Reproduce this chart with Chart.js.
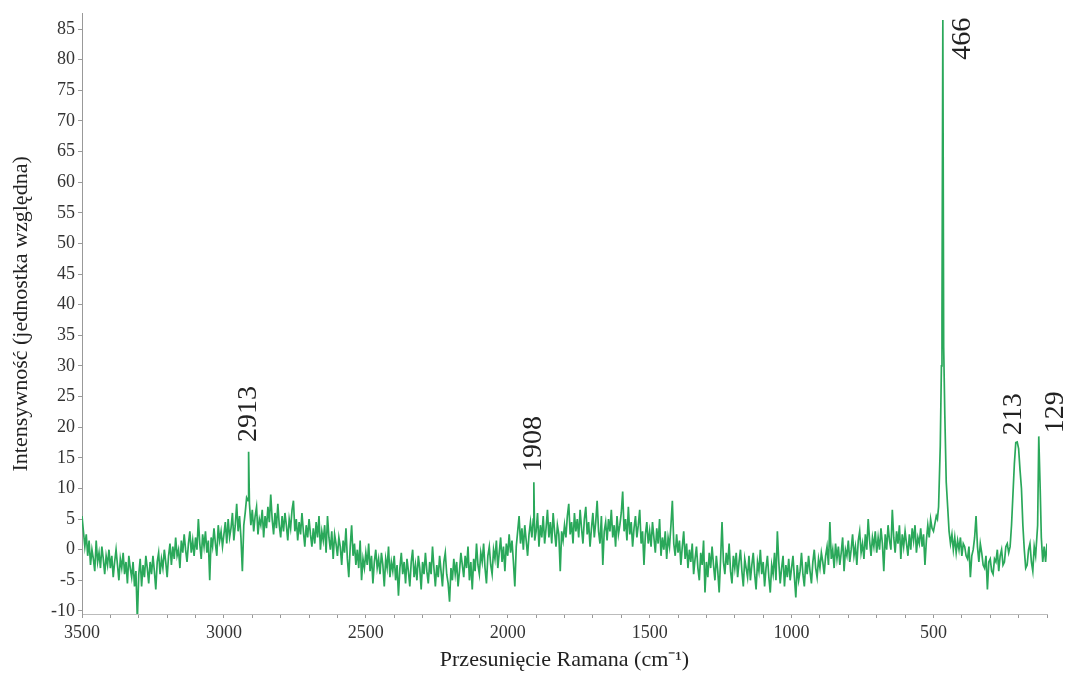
<!DOCTYPE html>
<html>
<head>
<meta charset="utf-8">
<script src="https://cdn.jsdelivr.net/npm/chart.js@4/dist/chart.umd.min.js"></script>
<style>
  body { margin: 0; background: #fff; }
</style>
</head>
<body>
<canvas id="raman" width="1069" height="673"></canvas>
<script>
// Raman shift grid (cm-1) for the regular part of the scan
const shiftStart = 3500;
const shiftStep = 5;

// Intensity, 50 points per 250 cm-1 band
const band3500 = [5.5, 3, 0.5, 2.5, -1, 1.5, -2.5, 0, -1.5, -3.5,
  1.5, -2, -0.5, -3, 0.5, -1.5, -4, -1, -2.5, 0,
  -3, -1, -4.5, -2, 0, -2.5, -5, -1.5, -3, -0.5,
  -4, -2, -5.5, -1, -3, -4.5, -2, -6, -3.5, -11.5,
  -4, -1.5, -6, -2.5, -4.5, -1, -3, -5.5, -2, -4];
const band3250 = [-1, -3.5, -6.5, -2, -0.5, -4, -1.5, -3, 0, -2,
  -4.5, -1, 1, -2.5, 0.5, -1.5, 2, -1, 0, -3,
  1.5, -0.5, 2.5, 0, -2, 1, 3, -0.5, 1.5, -1,
  2, 0, 5, 1, -1.5, 2.5, 0.5, 3, -0.5, 1.5,
  -5, 2, 0.5, 3.5, 1, -1, 4, 1.5, 3, 0.5];
const band3000 = [2.5, 4.5, 1, 5, 2, 3.5, 6, 1.5, 4, 7.5,
  3, 5.5, 2, -3.5, 4, 6, 8.5, 8, 7.5, 4,
  6.5, 3, 5.5, 7, 2.5, 5, 4, 6.5, 2, 5.5,
  3.5, 7, 4.5, 9, 5, 2.5, 6, 3.5, 7.5, 4,
  2, 5.5, 3, 6, 4, 1.5, 5, 3.5, 6.5, 8];
const band2750 = [3, 5, 1.5, 4.5, 2.5, 6, 3, 0.5, 4, 2,
  5, 2.5, 0.5, 3.5, 1, 4.5, 2, 5.5, 0, 3,
  1.5, 4, -0.5, 5.5, 2, 0, 3, -1.5, 2.5, 1,
  -1, 2, 0.5, -2.5, 1.5, -0.5, 3.5, -1.5, -4.5, 0.5,
  4, -1, 1, -2.5, 0, -3, 1.5, -5, -1.5, -3];
const band2500 = [-0.5, -2.5, 1, -3.5, -1, -5.5, -2, 0, -3, -1.5,
  -4, -0.5, -2.5, -6, -1.5, -3, 0.5, -4.5, -2, -3.5,
  -1, -5, -2.5, -7.5, -3, -0.5, -4, -2, -5.5, -1.5,
  -3.5, -6, -2, 0, -4.5, -2.5, -5, -1, -3, -6.5,
  -2, -4, -0.5, -3.5, -5.5, -2, -4, 0.5, -3, -6];
const band2250 = [-2.5, -4.5, -1, -3.5, -6, -2, -0.5, -4, -5.5, -8.5,
  -3, -5, -1.5, -4, -2, -6, -3.5, -0.5, -2.5, -4.5,
  -1, -3, 0.5, -5, -2, -6.5, -1.5, -3.5, 1, -2.5,
  -4, -0.5, -2, 1, -3, -5.5, -1, 0.5, -2.5, -4,
  0, -1.5, 1.5, -3, -0.5, 2, -2, 0.5, -3.5, 1];
const band2000 = [-1, 2.5, -0.5, 1.5, -2, -6, 0.5, 3, 5.5, 1,
  3.5, 0, 4, 1.5, -1, 2.5, 4.5, 2, 5, 1.5,
  3, 6, 0.5, 4, 2, 5.5, 1, 3.5, 6.5, 2,
  4.5, 1, 6, 3, 0.5, 4, 2.5, -3.5, 3, 1.5,
  4, 2, 5.5, 7.5, 2.5, 4.5, 1, 6, 3, 5];
const band1750 = [2, 6.5, 3.5, 1, 5, 7, 2.5, 4.5, 0.5, 3.5,
  6, 2, 4.5, 8, 3, 1, 5.5, -2.5, 3, 4.5,
  1.5, 5, 3, 6.5, 2, 4, 0.5, 5.5, 2.5, 4,
  6, 9.5, 3, 5, 1.5, 7, 2.5, 4.5, 0.5, 3.5,
  5.5, 2, 4, 6.5, 1, 3, -2.5, 2.5, 4.5, 1];
const band1500 = [3, 0.5, 4.5, 2, -0.5, 3.5, 1, 5, -1, 2,
  0, 3, -1.5, 2, 0.5, 4, 8, 1, -1, 2.5,
  -0.5, 1.5, -2.5, 0.5, 3, -1.5, 1, -3, 0, -2,
  1, -4, -1.5, 0.5, -3, -5, -0.5, -2.5, 1.5, -7,
  -2, -4.5, -0.5, -3, 0.5, -2.5, -5, -1, -3.5, -7];
const band1250 = [-1.5, 4.5, -2, -4, -0.5, -2.5, 1, -3.5, -5.5, -1,
  -3, -0.5, -4.5, -2, 0, -3.5, -6, -1.5, -3, -4.5,
  -1, -5, -2.5, -0.5, -4, -6.5, -2, -3.5, 0, -4,
  -2, -6, -3, -1, -4.5, -7, -2.5, -4, -0.5, -5,
  3, -2, -5.5, -3, -1, -6, -2.5, -4.5, -1.5, -5];
const band1000 = [-3, -1, -4.5, -7.8, -2.5, -5, -3.5, -0.5, -4, -6,
  -2, -4, -1, -3.5, -5.5, -2, 0, -3, -4.5, -1.5,
  -3, -0.5, -2, -4, -1, 0.5, -2.5, 4.5, -1.5, 0,
  -3, 1, -1.5, 0.5, -2.5, -0.5, 2, -3.5, 0, -1,
  1.5, -2, 0, 2.5, -1, 0.5, -2.5, 1.5, 3, -0.5];
const band750 = [1, -1.5, 2.5, 0, 5, 1.5, -1, 2, 0.5, 3,
  -0.5, 2, 0, 3.5, 1, -3.5, 2.5, 0, 4, 1.5,
  0, 6.5, 2, -0.5, 3, 1, 4, -1.5, 2.5, 0.5,
  3, 1, -1, 2.5, 0, 3.5, 1.5, 4, -0.5, 2,
  1, 3.5, 0.5, 2.5, -2.5, 1.5, 4, 2, 5, 3.5];

// Low-shift end with the sharp bands, sampled where the shape changes
const tailShift = [500, 490, 486, 482, 476, 472, 470, 467, 464, 460,
  455, 450, 445, 440, 435, 430, 425, 420, 415, 410,
  405, 400, 395, 390, 385, 380, 375, 370, 365, 360,
  355, 350, 345, 340, 335, 330, 325, 320, 315, 310,
  305, 300, 295, 290, 285, 280, 275, 270, 265, 260,
  255, 250, 245, 240, 235, 230, 225, 220, 215, 210,
  205, 200, 195, 190, 185, 180, 175, 170, 165, 160,
  155, 150, 145, 140, 133, 129, 124, 120, 115, 110,
  105, 100];
const tailIntensity = [3, 5.5, 5, 7, 17, 30, 38, 86.5, 33, 22,
  11, 7, 3, 1, 2.5, 0, 2, -0.5, 1.5, 0,
  2, -1, 1, 0.5, -1, -1.5, 0.5, -4.5, -1, 0,
  2, 5.5, 0.5, -2, 1, -0.5, -2.5, -3, -1, -6.5,
  -2, -1.5, -3.5, -4, -1.5, -2, 0, -3.5, -1, 0,
  -2.5, -2, 0.5, 1, -0.5, 0.5, 4, 9, 14, 17.5,
  17.6, 16.5, 13, 10, 4, 0, -3, -2.5, 0, 1,
  -2, -3.5, 0.5, -1, 4, 18.5, 10, 2, -2, 0.5,
  -2, 1];

// Narrow lines that sit between grid points
const spikeShift = [2913, 1908];
const spikeIntensity = [16, 11];

// Axis tick labels
const xTickLabels = [3500, 3000, 2500, 2000, 1500, 1000, 500];
const yTickLabels = [-10, -5, 0, 5, 10, 15, 20, 25, 30, 35, 40, 45, 50, 55, 60, 65, 70, 75, 80, 85];

// Peak annotations
const peakLabels = ['2913', '1908', '466', '213', '129'];
const peakLabelShift = [2913, 1908, 398, 218, 70];
const peakLabelBase = [17.6, 12.7, 80, 18.7, 19];

const buildSpectrum = () => {
  const points = [];
  const bands = [band3500, band3250, band3000, band2750, band2500, band2250,
    band2000, band1750, band1500, band1250, band1000, band750];
  let shift = shiftStart;
  bands.forEach(band => {
    band.forEach(v => {
      points.push({ x: shift, y: v });
      shift -= shiftStep;
    });
  });
  tailShift.forEach((s, i) => points.push({ x: s, y: tailIntensity[i] }));
  spikeShift.forEach((s, i) => points.push({ x: s, y: spikeIntensity[i] }));
  return points.sort((a, b) => b.x - a.x);
};

const peakLabelPlugin = {
  id: 'peakLabels',
  afterDatasetsDraw(chart) {
    const { ctx, scales: { x, y } } = chart;
    ctx.save();
    ctx.font = '28px "Liberation Serif"';
    ctx.fillStyle = '#222';
    ctx.textAlign = 'left';
    ctx.textBaseline = 'middle';
    peakLabels.forEach((label, i) => {
      ctx.save();
      ctx.translate(x.getPixelForValue(peakLabelShift[i]), y.getPixelForValue(peakLabelBase[i]));
      ctx.rotate(-Math.PI / 2);
      ctx.fillText(label, 0, 0);
      ctx.restore();
    });
    ctx.restore();
  }
};

const tickFont = { family: 'Liberation Serif', size: 18 };
const titleFont = { family: 'Liberation Serif', size: 22 };

new Chart(document.getElementById('raman'), {
  type: 'line',
  data: {
    datasets: [{
      data: buildSpectrum(),
      borderColor: '#2aa85a',
      borderWidth: 1.7,
      pointRadius: 0,
      tension: 0,
      fill: false
    }]
  },
  options: {
    responsive: false,
    animation: false,
    layout: { padding: { top: 13, right: 22, left: 4, bottom: 0 } },
    plugins: {
      legend: { display: false },
      tooltip: { enabled: false }
    },
    scales: {
      x: {
        type: 'linear',
        reverse: true,
        min: 100,
        max: 3500,
        afterBuildTicks: axis => {
          // minor tick every 100 cm-1, labels only on the 500 marks
          const ticks = [];
          for (let v = 3500; v >= 100; v -= 100) ticks.push({ value: v });
          axis.ticks = ticks;
        },
        afterFit: scale => { scale.height = 59; },
        ticks: {
          autoSkip: false,
          maxRotation: 0,
          padding: 4,
          color: '#333',
          font: tickFont,
          callback: v => (xTickLabels.includes(v) ? v : '')
        },
        grid: { drawOnChartArea: false, tickLength: 4, color: '#999' },
        border: { display: true, color: '#bbb', dash: [1, 3] },
        title: {
          display: true,
          text: 'Przesunięcie Ramana (cm⁻¹)',
          color: '#222',
          font: titleFont,
          padding: { top: 0, bottom: 0 }
        }
      },
      y: {
        min: -10.5,
        max: 87.5,
        afterBuildTicks: axis => {
          axis.ticks = yTickLabels.map(v => ({ value: v }));
        },
        afterFit: scale => { scale.width = 78; },
        ticks: {
          padding: 3,
          color: '#333',
          font: tickFont
        },
        grid: { drawOnChartArea: false, tickLength: 4, color: '#999' },
        border: { display: true, color: '#999', dash: [1, 2] },
        title: {
          display: true,
          text: 'Intensywność (jednostka względna)',
          color: '#222',
          font: titleFont,
          padding: { top: 4, bottom: 0 }
        }
      }
    }
  },
  plugins: [peakLabelPlugin]
});
</script>
</body>
</html>
